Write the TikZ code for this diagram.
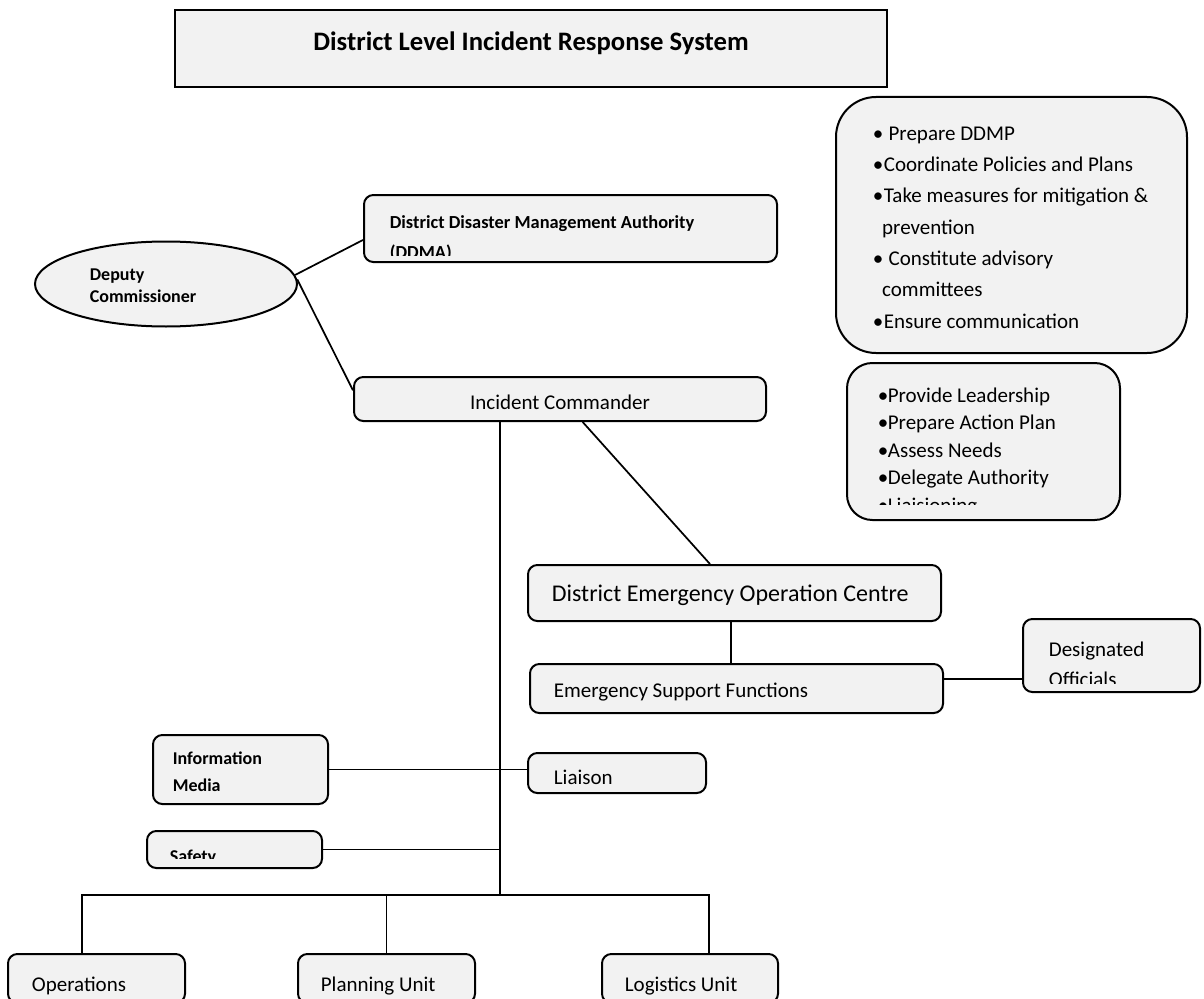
\documentclass[tikz,border=0pt]{standalone}
\usepackage{fontspec}
\setmainfont{Carlito}
\usetikzlibrary{shapes.geometric}
\definecolor{boxgray}{HTML}{F2F2F2}
\newcommand\bul{\makebox[8.25pt][l]{\textbullet}}
\newcommand\bulb{\makebox[7.5pt][l]{\textbullet}}

\begin{document}
\begin{tikzpicture}[x=0.75pt, y=-0.75pt, line width=1.3pt,
  box/.style={draw, fill=boxgray, line width=1.5pt, rounded corners=7pt, inner sep=0pt},
  txt/.style={inner sep=0pt, anchor=base west, align=left, font=\fontsize{15.75}{20}\selectfont},
  btxt/.style={txt, font=\bfseries\fontsize{13.5}{16.5}\selectfont}]
\useasboundingbox (0,0) rectangle (1204,999);

% boxes
\node[box, rounded corners=0pt, minimum width=534pt, minimum height=57.75pt] (title) at (531,48.5) {};
\node[box, rounded corners=30pt, minimum width=263.25pt, minimum height=192pt] (resp) at (1011.5,225) {};
\node[box, rounded corners=19pt, minimum width=204.75pt, minimum height=117.75pt] (duties) at (983.5,441.5) {};
\node[box, minimum width=309.75pt, minimum height=50.25pt] (ddma) at (570.5,228.5) {};
\node[box, ellipse, rounded corners=0pt, minimum width=196.5pt, minimum height=63.75pt] (dc) at (166,284) {};
\node[box, minimum width=309pt, minimum height=33pt] (ic) at (560,399) {};
\node[box, minimum width=309.75pt, minimum height=42pt] (deoc) at (734.5,593) {};
\node[box, minimum width=309.75pt, minimum height=36.75pt] (esf) at (736.5,688.5) {};
\node[box, minimum width=132.75pt, minimum height=54.75pt] (desig) at (1111.5,655.5) {};
\node[box, minimum width=131.25pt, minimum height=51.75pt] (info) at (240.5,769.5) {};
\node[box, minimum width=133.5pt, minimum height=30pt] (liaison) at (617,773) {};
\node[box, minimum width=131.25pt, minimum height=27.75pt] (safety) at (234.5,849.5) {};
\node[box, minimum width=132.75pt, minimum height=36.75pt] (ops) at (96.5,978.5) {};
\node[box, minimum width=132.75pt, minimum height=36.75pt] (plan) at (386.5,978.5) {};
\node[box, minimum width=132pt, minimum height=36.75pt] (logi) at (690,978.5) {};
\coordinate (bus) at (500,895);

% texts (base west sits on the last line)
\node[txt, anchor=base, font=\bfseries\fontsize{20}{24}\selectfont] (titletext) at (531,51) {District Level Incident Response System};
\node[txt, font=\fontsize{15.75}{23.5}\selectfont] (resptext) at (872,328)
  {\bul\ Prepare DDMP\\ \bul Coordinate Policies and Plans\\ \bul Take measures for mitigation \&\\ \hspace*{7pt}prevention\\
   \bul\ Constitute advisory\\ \hspace*{7pt}committees\\ \bul Ensure communication};
\begin{scope}
  \clip (duties.north west) rectangle ([yshift=12.75pt]duties.south east);
  \node[txt, font=\fontsize{15.75}{20.6}\selectfont] (dutiestext) at (877,512)
    {\bulb Provide Leadership\\ \bulb Prepare Action Plan\\ \bulb Assess Needs\\ \bulb Delegate Authority\\ \bulb Liaisioning};
\end{scope}
\begin{scope}
  \clip (ddma.north west) rectangle ([yshift=5.5pt]ddma.south east);
  \node[btxt, font=\bfseries\fontsize{13.8}{22.5}\selectfont] (ddmatext) at (389,258) {District Disaster Management Authority\\ (DDMA)};
\end{scope}
\node[btxt] (dctext) at (89,302) {Deputy\\ Commissioner};
\node[txt, anchor=base] (ictext) at (560,409) {Incident Commander};
\node[txt, font=\fontsize{18}{22}\selectfont] (deoctext) at (551,601) {District Emergency Operation Centre};
\node[txt] (esftext) at (553,697) {Emergency Support Functions};
\begin{scope}
  \clip (desig.north west) rectangle ([yshift=7pt]desig.south east);
  \node[txt, font=\fontsize{15.75}{22.5}\selectfont] (desigtext) at (1048,686) {Designated\\ Officials};
\end{scope}
\node[btxt, font=\bfseries\fontsize{13.5}{20.25}\selectfont] (infotext) at (172,791) {Information\\ Media};
\node[txt] (liaisontext) at (553,784) {Liaison};
\begin{scope}
  \clip (safety.north west) rectangle ([yshift=8.25pt]safety.south east);
  \node[btxt] (safetytext) at (169,862) {Safety};
\end{scope}
\node[txt] (opstext) at (31,991) {Operations};
\node[txt] (plantext) at (320,991) {Planning Unit};
\node[txt] (logitext) at (624,991) {Logistics Unit};

% connectors
\draw (dc.4) -- ([yshift=-8.6pt]ddma.west);
\draw (dc.2) -- ([yshift=6.5pt]ic.west);
\draw (ic.south -| bus) -- (bus);
\draw ([xshift=17pt]ic.south) -- ([xshift=-18.4pt]deoc.north);
\draw ([xshift=-2.6pt]deoc.south) -- ([xshift=-2.6pt]deoc.south |- esf.north);
\draw ([yshift=7pt]esf.east) -- ([yshift=7pt]esf.east -| desig.west);
\draw (info.east) -- (info.east -| liaison.west);
\draw (safety.east) -- (safety.east -| bus);
\draw ([xshift=-10.9pt]ops.north) |- (bus);
\draw (plan.north) -- (plan.north |- bus);
\draw ([xshift=14.25pt]logi.north) |- (bus);
\end{tikzpicture}
\end{document}
